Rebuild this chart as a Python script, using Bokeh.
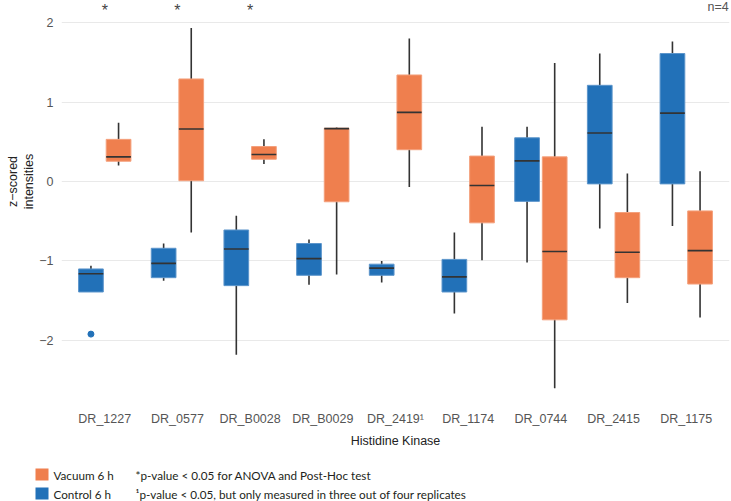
from bokeh.plotting import figure
from bokeh.models import ColumnDataSource, FactorRange, FixedTicker, Label, Range1d
from bokeh.transform import dodge
from bokeh.layouts import column, row
from bokeh.embed import file_html
from bokeh.resources import INLINE
from bokeh.core.properties import value

# ---------------- data ----------------
cats = ["DR_1227", "DR_0577", "DR_B0028", "DR_B0029", "DR_2419\u00b9",
        "DR_1174", "DR_0744", "DR_2415", "DR_1175"]

# Vacuum 6 h (orange)
vac_low  = [0.20, -0.64, 0.22, -1.17, -0.07, -0.99, -2.60, -1.53, -1.71]
vac_q1   = [0.255, 0.01, 0.28, -0.255, 0.40, -0.52, -1.74, -1.21, -1.29]
vac_med  = [0.31, 0.66, 0.34, 0.665, 0.87, -0.05, -0.88, -0.89, -0.87]
vac_q3   = [0.53, 1.29, 0.44, 0.67, 1.34, 0.32, 0.31, -0.39, -0.37]
vac_high = [0.74, 1.93, 0.53, 0.68, 1.80, 0.69, 1.49, 0.10, 0.13]

# Control 6 h (blue)
ctl_low  = [-1.39, -1.25, -2.18, -1.30, -1.27, -1.66, -1.02, -0.59, -0.56]
ctl_q1   = [-1.39, -1.21, -1.31, -1.18, -1.18, -1.39, -0.25, -0.03, -0.03]
ctl_med  = [-1.16, -1.03, -0.85, -0.97, -1.09, -1.20, 0.26, 0.61, 0.86]
ctl_q3   = [-1.10, -0.84, -0.61, -0.78, -1.04, -0.98, 0.55, 1.21, 1.61]
ctl_high = [-1.06, -0.78, -0.43, -0.73, -1.00, -0.64, 0.69, 1.61, 1.76]

ctl_out_cat = ["DR_1227"]
ctl_out_val = [-1.92]

sig_cats = ["DR_1227", "DR_0577", "DR_B0028"]
sig_marks = ["*", "*", "*"]

y_ticks = [-2, -1, 0, 1, 2]
y_tick_labels = {-2: "\u22122", -1: "\u22121", 0: "0", 1: "1", 2: "2"}
y_title_lines = ["z\u2212scored", "intensities"]

series_names = ["Vacuum 6 h", "Control 6 h"]
footnotes = ["*p-value < 0.05 for ANOVA and Post-Hoc test",
             "\u00b9p-value < 0.05, but only measured in three out of four replicates"]

ORANGE = "#EF7F4E"
ORANGE_EDGE = "#F4A07C"
BLUE = "#2271B8"
BLUE_EDGE = "#5C95CB"
DARK = "#333333"
TICK_COL = "#555555"

Y_RANGE = Range1d(-2.755, 2.277)
MAIN_H = 458
BORDER_BOTTOM = 58
X_PAD = 0.095

# ---------------- main figure ----------------
p = figure(width=695, height=MAIN_H,
           x_range=FactorRange(*cats, range_padding=X_PAD, range_padding_units="absolute"),
           y_range=Y_RANGE,
           output_backend="svg", toolbar_location=None,
           min_border_left=22, min_border_right=2, min_border_top=0,
           min_border_bottom=BORDER_BOTTOM)

p.outline_line_color = None
p.xgrid.grid_line_color = None
p.ygrid.grid_line_color = "#e9e9e9"
p.ygrid.grid_line_width = 1

p.yaxis.ticker = FixedTicker(ticks=y_ticks)
p.yaxis.major_label_overrides = y_tick_labels
for ax in (p.xaxis[0], p.yaxis[0]):
    ax.axis_line_color = None
    ax.major_tick_line_color = None
    ax.minor_tick_line_color = None
    ax.major_tick_out = 0
    ax.major_tick_in = 0
    ax.major_label_text_font = "Liberation Sans"
    ax.major_label_text_font_size = "12.5px"
    ax.major_label_text_color = TICK_COL

p.xaxis.major_label_standoff = 11
p.yaxis.major_label_standoff = 8
p.xaxis.axis_label = "Histidine Kinase"
p.xaxis.axis_label_text_font = "Liberation Sans"
p.xaxis.axis_label_text_font_size = "12.5px"
p.xaxis.axis_label_text_font_style = "normal"
p.xaxis.axis_label_text_color = "#222222"
p.xaxis.axis_label_standoff = 5

BW = 0.34
OFF = 0.19

def draw_series(lo, q1, med, q3, hi, off, fill, edge):
    src = ColumnDataSource(dict(cat=cats, low=lo, q1=q1, med=med, q3=q3, high=hi))
    xc = dodge("cat", off, range=p.x_range)
    p.segment(x0=xc, y0="low", x1=xc, y1="high", source=src,
              line_color=DARK, line_width=1.6)
    p.vbar(x=xc, width=BW, top="q3", bottom="q1", source=src,
           fill_color=fill, line_color=edge, line_width=1)
    p.segment(x0=dodge("cat", off - BW / 2, range=p.x_range), y0="med",
              x1=dodge("cat", off + BW / 2, range=p.x_range), y1="med",
              source=src, line_color=DARK, line_width=1.6)

draw_series(ctl_low, ctl_q1, ctl_med, ctl_q3, ctl_high, -OFF, BLUE, BLUE_EDGE)
draw_series(vac_low, vac_q1, vac_med, vac_q3, vac_high, OFF, ORANGE, ORANGE_EDGE)

out_src = ColumnDataSource(dict(cat=ctl_out_cat, val=ctl_out_val))
p.scatter(x=dodge("cat", -OFF, range=p.x_range), y="val", source=out_src,
          size=6, color=BLUE)

sig_src = ColumnDataSource(dict(cat=sig_cats, mark=sig_marks))
p.text(x="cat", y=2.15, text="mark", source=sig_src,
       text_font=value("Liberation Sans"), text_font_size="16px",
       text_color="#444444", text_align="center", text_baseline="middle")

# "n=4" right-aligned at the right edge of the plot area
p.add_layout(Label(x=len(cats) + X_PAD - 0.01, y=2.19, x_units="data", y_units="data",
                   text="n=4",
                   text_font="Liberation Sans", text_font_size="12.5px",
                   text_color="#555555", text_align="right", text_baseline="middle"))

# ---------------- y title strip ----------------
yt = figure(width=36, height=MAIN_H, x_range=Range1d(0, 36), y_range=Y_RANGE,
            output_backend="svg", toolbar_location=None,
            min_border_left=0, min_border_right=0, min_border_top=0,
            min_border_bottom=BORDER_BOTTOM)
yt.axis.visible = False
yt.grid.grid_line_color = None
yt.outline_line_color = None
yt_src = ColumnDataSource(dict(x=[12, 28], y=[0, 0], t=y_title_lines))
yt.text(x="x", y="y", text="t", source=yt_src, angle=1.5707963,
        text_font=value("Liberation Sans"), text_font_size="12.5px",
        text_color="#222222", text_align="center", text_baseline="middle")

# ---------------- legend strip ----------------
lg = figure(width=731, height=43, x_range=Range1d(0, 731), y_range=Range1d(0, 43),
            output_backend="svg", toolbar_location=None,
            min_border_left=0, min_border_right=0,
            min_border_top=0, min_border_bottom=0)
lg.axis.visible = False
lg.grid.grid_line_color = None
lg.outline_line_color = None

leg_src = ColumnDataSource(dict(x=[41.5, 41.5], y=[27, 8], color=[ORANGE, BLUE],
                                name=series_names, note=footnotes,
                                tx=[53, 53], nx=[135, 135]))
lg.rect(x="x", y="y", width=13, height=12, fill_color="color", line_color=None,
        source=leg_src)
lg.text(x="tx", y="y", text="name", source=leg_src, text_font=value("Lato"),
        text_font_size="11.7px", text_color="#231f20", text_baseline="middle")
lg.text(x="nx", y="y", text="note", source=leg_src, text_font=value("Lato"),
        text_font_size="11.7px", text_color="#231f20", text_baseline="middle")

layout = column(row(yt, p, spacing=0), lg, spacing=0)
open("out.html", "w").write(file_html(layout, INLINE))
